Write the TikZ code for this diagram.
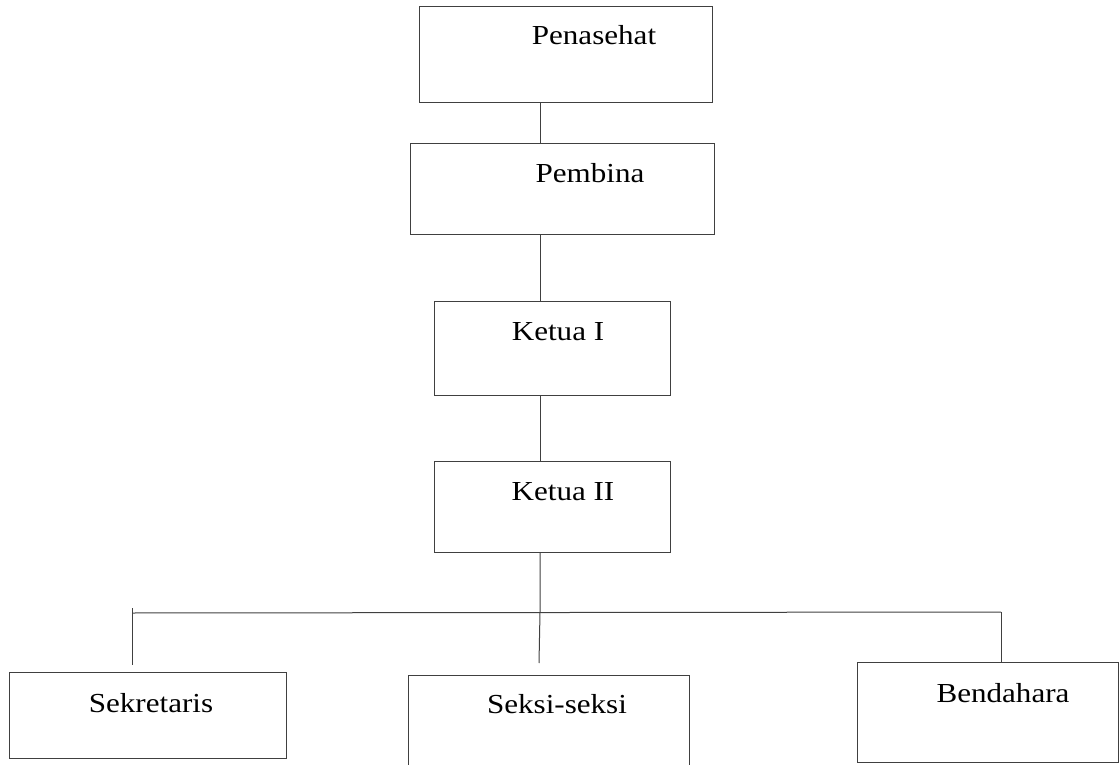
\documentclass[tikz,border=0pt]{standalone}
\usepackage{fontspec}
\setmainfont{Liberation Serif}[FakeStretch=1.13]
\begin{document}
\begin{tikzpicture}[x=1pt,y=-1pt,line width=1pt,
  box/.style={draw=black!75,inner sep=0pt,outer sep=0pt},
  lbl/.style={anchor=base,inner sep=0pt,font=\fontsize{27.5}{33}\selectfont},
  link/.style={draw=black!75}]
\clip (0,0) rectangle (1120,765);
\node[box,minimum width=293,minimum height=96] (penasehat) at (565.5,55) {};
\node[box,minimum width=304,minimum height=90] (pembina) at (562,189) {};
\node[box,minimum width=236,minimum height=94] (ketuaI) at (552,348) {};
\node[box,minimum width=236,minimum height=91] (ketuaII) at (552,506.5) {};
\node[box,minimum width=277,minimum height=86] (sekretaris) at (147.5,715) {};
\node[box,minimum width=281,minimum height=110] (seksi) at (548.5,730) {};
\node[box,minimum width=261,minimum height=100] (bendahara) at (987.5,712) {};
\node[lbl] (tpenasehat) at (594,45) {Penasehat};
\node[lbl] (tpembina) at (590,183) {Pembina};
\node[lbl] (tketuaI) at (558,340) {Ketua I};
\node[lbl] (tketuaII) at (563,500) {Ketua II};
\node[lbl] (tsekretaris) at (151,712) {Sekretaris};
\node[lbl] (tseksi) at (557,713) {Seksi-seksi};
\node[lbl] (tbendahara) at (1003,702) {Bendahara};
\coordinate (spine) at (540,0);
\coordinate (barL) at (132,613);
\coordinate (barR) at (1001,612);
\coordinate (bar) at (540,612.5);
\coordinate (tickL) at (132,608);
\coordinate (endL) at (132,665);
\coordinate (endM) at (539,663);
\draw[link] (spine |- penasehat.south) -- (spine |- pembina.north);
\draw[link] (spine |- pembina.south) -- (spine |- ketuaI.north);
\draw[link] (spine |- ketuaI.south) -- (spine |- ketuaII.north);
\draw[link] (spine |- ketuaII.south) -- (bar) -- (endM);
\draw[link] (barL) -- (barR);
\draw[link] (tickL) -- (endL);
\draw[link] (barR) -- (barR |- bendahara.north);
\end{tikzpicture}
\end{document}
